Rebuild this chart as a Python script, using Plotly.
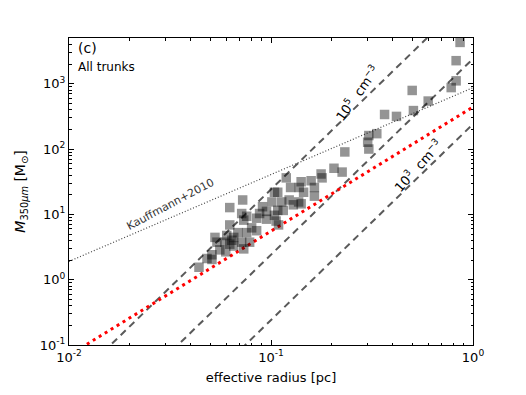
import numpy as np
import plotly.graph_objects as go

# ---- data: effective radius [pc] and mass [Msun] of all trunks ----
radius_pc = [0.863, 0.825, 0.825, 0.780, 0.50, 0.60, 0.507, 0.365, 0.418, 0.305,
             0.334, 0.301, 0.305, 0.232, 0.205, 0.225, 0.177, 0.179, 0.158, 0.141,
             0.119, 0.125, 0.138, 0.164, 0.145, 0.108, 0.164, 0.123, 0.137, 0.129,
             0.0724, 0.113, 0.101, 0.0908, 0.108, 0.115, 0.095, 0.0878, 0.104, 0.0625,
             0.0716, 0.0758, 0.0849, 0.095, 0.106, 0.109, 0.0625, 0.0733, 0.0802, 0.0758,
             0.0654, 0.0528, 0.0604, 0.064, 0.0625, 0.0716, 0.0591, 0.054, 0.0654, 0.0733,
             0.0597, 0.051, 0.0482, 0.051, 0.044, 0.141, 0.104, 0.0849, 0.0685, 0.0558,
             0.0784]
mass_msun = [4290, 2254, 1107, 873, 789, 543, 388, 338, 316, 161,
             172, 127, 100, 90.3, 50.8, 44.4, 41.5, 36.2, 32.7, 31.6,
             36.2, 25.8, 25.8, 25.8, 21.8, 21.8, 19.0, 16.6, 15.5, 14.0,
             16.6, 15.5, 15.5, 13.1, 11.5, 11.5, 11.1, 10.3, 9.67, 12.7,
             10.3, 9.35, 8.73, 8.44, 7.89, 6.89, 6.89, 8.16, 6.22, 5.25,
             4.44, 4.44, 4.75, 4.01, 3.50, 3.75, 3.75, 3.75, 3.27, 2.96,
             2.67, 2.41, 2.11, 2.04, 1.55, 14.5, 21.8, 5.62, 5.25, 2.86,
             3.75]

# model-line parameters
densities = [1e5, 1e4, 1e3]          # cm^-3
kauffmann_coef, kauffmann_slope = 870.0, 1.33
fit_coef, fit_slope = 440.0, 1.9

x_tick_vals = [0.01, 0.1, 1]
x_tick_text = ["10<sup>-2</sup>", "10<sup>-1</sup>", "10<sup>0</sup>"]
y_tick_vals = [0.1, 1, 10, 100, 1000]
y_tick_text = ["10<sup>-1</sup>", "10<sup>0</sup>", "10<sup>1</sup>", "10<sup>2</sup>", "10<sup>3</sup>"]

# constants
PC = 3.086e18
MH = 1.6726e-24
MSUN = 1.989e33
MU = 2.33

r_line = np.logspace(-2, 0, 200)

def density_mass(r, n):
    return 4.0 / 3.0 * np.pi * (r * PC) ** 3 * n * MU * MH / MSUN

fig = go.Figure()

for n in densities:
    fig.add_trace(go.Scatter(x=r_line, y=density_mass(r_line, n), mode="lines",
                             line=dict(color="#5a5a5a", width=2, dash="7px,5px"),
                             showlegend=False, hoverinfo="skip"))

fig.add_trace(go.Scatter(x=r_line, y=kauffmann_coef * r_line ** kauffmann_slope, mode="lines",
                         line=dict(color="#444444", width=1.2, dash="1px,2px"),
                         showlegend=False, hoverinfo="skip"))

fig.add_trace(go.Scatter(x=r_line, y=fit_coef * r_line ** fit_slope, mode="lines",
                         line=dict(color="red", width=3, dash="3px,4px"),
                         showlegend=False, hoverinfo="skip"))

fig.add_trace(go.Scatter(x=radius_pc, y=mass_msun, mode="markers",
                         marker=dict(symbol="square", size=9.5, color="rgba(0,0,0,0.42)",
                                     line=dict(width=0)),
                         showlegend=False))

font_main = "DejaVu Sans, Arial, sans-serif"

minor_x = [m * 10.0 ** k for k in (-2, -1) for m in range(2, 10)]
minor_y = [m * 10.0 ** k for k in (-1, 0, 1, 2, 3) for m in range(2, 10)]

fig.update_xaxes(type="log", range=[-2, 0], showgrid=False, zeroline=False,
                 showline=True, linecolor="black", linewidth=1, mirror="allticks",
                 ticks="inside", ticklen=5, tickcolor="black",
                 tickmode="array", tickvals=x_tick_vals, ticktext=x_tick_text,
                 tickfont=dict(size=13, color="black", family=font_main),
                 minor=dict(tickmode="array", tickvals=minor_x, ticks="inside",
                            ticklen=2.5, tickcolor="black", showgrid=False),
                 title=dict(text="effective radius [pc]", standoff=9,
                            font=dict(size=13, color="black", family=font_main)))

fig.update_yaxes(type="log", range=[-1, 3.7], showgrid=False, zeroline=False,
                 showline=True, linecolor="black", linewidth=1, mirror="allticks",
                 ticks="inside", ticklen=5, tickcolor="black",
                 tickmode="array", tickvals=y_tick_vals, ticktext=y_tick_text,
                 tickfont=dict(size=13, color="black", family=font_main),
                 minor=dict(tickmode="array", tickvals=minor_y, ticks="inside",
                            ticklen=2.5, tickcolor="black", showgrid=False),
                 title=dict(text="<i>M</i><sub>350<i>μm</i></sub> [M<sub>⊙</sub>]", standoff=10,
                            font=dict(size=14, color="black", family=font_main)))

annos = [
    dict(x=0.018, y=0.968, xref="paper", yref="paper", text="(c)", showarrow=False,
         xanchor="left", yanchor="middle", font=dict(size=14, color="black", family=font_main)),
    dict(x=0.018, y=0.905, xref="paper", yref="paper", text="All trunks", showarrow=False,
         xanchor="left", yanchor="middle", font=dict(size=12, color="black", family=font_main)),
    dict(x=-0.575, y=2.86, xref="x", yref="y", text="10<sup>5</sup>  cm<sup>−3</sup>",
         showarrow=False, textangle=-54, font=dict(size=13, color="black", family=font_main)),
    dict(x=-0.27, y=1.75, xref="x", yref="y", text="10<sup>3</sup>  cm<sup>−3</sup>",
         showarrow=False, textangle=-48, font=dict(size=13, color="black", family=font_main)),
    dict(x=-1.50, y=1.15, xref="x", yref="y", text="Kauffmann+2010",
         showarrow=False, textangle=-28, font=dict(size=11, color="#333333", family=font_main)),
]
fig.update_layout(annotations=annos)

# page body adds an 8px offset; compensate so the plot area lands at x 66-473, y 38-357
fig.update_layout(width=518, height=387, margin=dict(l=58, r=53, t=30, b=38),
                  plot_bgcolor="white", paper_bgcolor="white",
                  font=dict(family=font_main, color="black"))

fig.write_html("out.html")
